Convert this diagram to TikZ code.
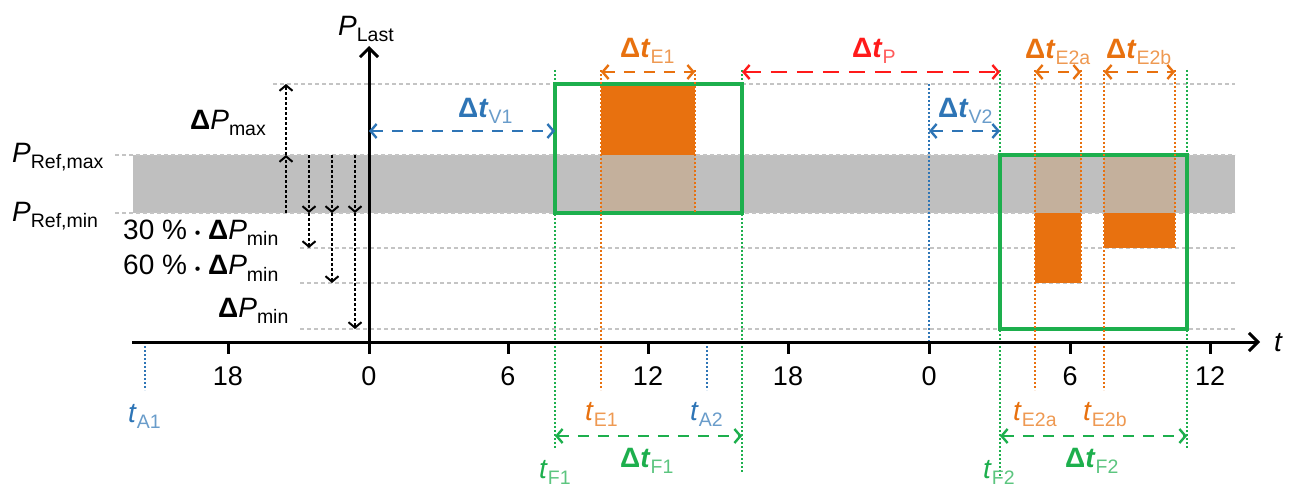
\documentclass[tikz,border=0pt]{standalone}
\usepackage{fontspec}
\setmainfont{Liberation Sans}
\usetikzlibrary{arrows.meta}
\definecolor{cOr}{HTML}{E8710F}
\definecolor{cGr}{HTML}{1DAF4D}
\definecolor{cBl}{HTML}{2E75B6}
\definecolor{cRd}{HTML}{FF1A1A}
\definecolor{cTan}{HTML}{C4B09C}
\definecolor{cBand}{HTML}{BFBFBF}
\definecolor{cGrid}{HTML}{C4C4C4}
\newcommand{\sbs}[1]{\raisebox{-6pt}{\fontsize{19.5}{22}\selectfont #1}}
\newcommand{\csb}[2]{\raisebox{-6pt}{\fontsize{19.5}{22}\selectfont\color{#1!72!white}#2}}
\newcommand{\Dt}{\textbf{Δ\textit{t}}}
\newcommand{\mdot}{\raisebox{1pt}{\fontsize{16}{16}\selectfont•}}
\begin{document}
\begin{tikzpicture}[x=1pt,y=-1pt,
  gridl/.style={cGrid, line width=1.5pt, dash pattern=on 4pt off 3pt},
  vdot/.style={line width=2.3pt, dash pattern=on 2pt off 2pt},
  barb/.tip={Straight Barb[length=6pt,width=14pt,line width=2.4pt]},
  dimarr/.style={line width=2.5pt, dash pattern=on 11pt off 9pt, barb-barb},
  blkarr/.style={line width=2pt, dash pattern=on 3pt off 2pt, -{Straight Barb[length=5.5pt,width=13pt,line width=2pt]}},
  axis/.style={line width=3pt, -{Straight Barb[length=9pt,width=18pt,line width=3pt]}},
  tickl/.style={line width=3pt},
  lbl/.style={inner sep=0pt, anchor=base west, font=\fontsize{28}{32}\selectfont},
  numl/.style={inner sep=0pt, anchor=base, font=\fontsize{27}{30}\selectfont},
  gbox/.style={cGr, line width=4pt}]
\useasboundingbox (0,0) rectangle (1295,486);

% grid lines
\draw[gridl] (273,84) -- (1235,84);
\draw[gridl] (300,248) -- (1235,248);
\draw[gridl] (300,283) -- (1235,283);
\draw[gridl] (300,329) -- (1235,329);
% reference band
\fill[cBand] (133,155) rectangle (1235,213);
\draw[gridl] (115,155) -- (1235,155);
\draw[gridl] (115,213) -- (1235,213);

% orange events
\fill[cOr] (601,84) rectangle (695,155);
\fill[cTan] (601,155) rectangle (695,213);
\fill[cTan] (1035,155) rectangle (1081,213);
\fill[cOr] (1035,213) rectangle (1081,283);
\fill[cTan] (1104,155) rectangle (1175,213);
\fill[cOr] (1104,213) rectangle (1175,248);

% green windows
\node[inner sep=0pt, minimum width=187pt, minimum height=129pt] (W1) at (648.5,148.5) {};
\node[inner sep=0pt, minimum width=187pt, minimum height=174pt] (W2) at (1093.5,242) {};
\draw[gbox] (W1.north west) rectangle (W1.south east);
\draw[gbox] (W2.north west) rectangle (W2.south east);

% coordinates
\coordinate (F1t) at (555,70);  \coordinate (F1b) at (555,448);
\coordinate (F1rt) at (742,70); \coordinate (F1rb) at (742,472);
\coordinate (F2t) at (1000,70); \coordinate (F2b) at (1000,478);
\coordinate (F2rt) at (1187,70); \coordinate (F2rb) at (1187,448);
\coordinate (E1t) at (601,70);  \coordinate (E1b) at (601,390);
\coordinate (E1rt) at (695,70); \coordinate (E1rb) at (695,213);
\coordinate (E2at) at (1035,70); \coordinate (E2ab) at (1035,390);
\coordinate (E2art) at (1081,70); \coordinate (E2arb) at (1081,283);
\coordinate (E2bt) at (1104,70); \coordinate (E2bb) at (1104,390);
\coordinate (E2brt) at (1175,70); \coordinate (E2brb) at (1175,248);
\coordinate (A1t) at (145,342); \coordinate (A1b) at (145,390);
\coordinate (A2t) at (707,342); \coordinate (A2b) at (707,390);
\coordinate (V2t) at (929,84);  \coordinate (V2b) at (929,342);

% dotted verticals
\draw[vdot,cGr] (F1t) -- (F1b);
\draw[vdot,cGr] (F1rt) -- (F1rb);
\draw[vdot,cGr] (F2t) -- (F2b);
\draw[vdot,cGr] (F2rt) -- (F2rb);
\draw[vdot,cOr] (E1t) -- (E1b);
\draw[vdot,cOr] (E1rt) -- (E1rb);
\draw[vdot,cOr] (E2at) -- (E2ab);
\draw[vdot,cOr] (E2art) -- (E2arb);
\draw[vdot,cOr] (E2bt) -- (E2bb);
\draw[vdot,cOr] (E2brt) -- (E2brb);
\draw[vdot,cBl] (A1t) -- (A1b);
\draw[vdot,cBl] (A2t) -- (A2b);
\draw[vdot,cBl] (V2t) -- (V2b);

% axes
\coordinate (O) at (369,342);
\coordinate (xs) at (132,342);
\coordinate (xe) at (1260,342);
\coordinate (ys) at (369,354);
\coordinate (ye) at (369,46);
\draw[axis] (xs) -- (xe);
\draw[axis] (ys) -- (ye);
\foreach \x/\n in {228/18,508/6,648/12,788/18,929/0,1070/6,1210/12}{
  \draw[tickl] (\x,342) -- (\x,354);
  \node[numl] (tk\x) at (\x,385) {\n};
}
\node[numl] (tk369) at (369,385) {0};
\node[lbl] (tlab) at (1274,351) {\textit{t}};
\node[lbl] (plast) at (338,36) {\textit{P}\sbs{Last}};

% left dotted black arrows
\coordinate (m1a) at (286,213); \coordinate (m1b) at (286,155); \coordinate (m1c) at (286,84);
\draw[blkarr] (m1a) -- (m1b);
\draw[blkarr] (m1b) -- (m1c);
\foreach \x/\e in {309/248,332/283,355/329}{
  \coordinate (d\x a) at (\x,155);
  \coordinate (d\x b) at (\x,213);
  \coordinate (d\x c) at (\x,\e);
  \draw[blkarr] (d\x a) -- (d\x b);
  \draw[blkarr] (d\x b) -- (d\x c);
}

% dimension arrows
\coordinate (V1s) at (369,131); \coordinate (V1e) at (555,131);
\draw[dimarr,cBl] (V1s) -- (V1e);
\coordinate (V2s) at (929,131); \coordinate (V2e) at (1000,131);
\draw[dimarr,cBl] (V2s) -- (V2e);
\coordinate (DE1s) at (601,72); \coordinate (DE1e) at (695,72);
\draw[dimarr,cOr] (DE1s) -- (DE1e);
\coordinate (DPs) at (742,72); \coordinate (DPe) at (1000,72);
\draw[dimarr,cRd,dash pattern=on 16pt off 10pt] (DPs) -- (DPe);
\coordinate (DE2as) at (1035,72); \coordinate (DE2ae) at (1081,72);
\draw[dimarr,cOr] (DE2as) -- (DE2ae);
\coordinate (DE2bs) at (1104,72); \coordinate (DE2be) at (1175,72);
\draw[dimarr,cOr] (DE2bs) -- (DE2be);
\coordinate (DF1s) at (555,436); \coordinate (DF1e) at (742,436);
\draw[dimarr,cGr] (DF1s) -- (DF1e);
\coordinate (DF2s) at (1000,436); \coordinate (DF2e) at (1187,436);
\draw[dimarr,cGr] (DF2s) -- (DF2e);

% labels
\node[lbl,cBl] (lV1) at (458,118) {\Dt\csb{cBl}{V1}};
\node[lbl,cBl] (lV2) at (938,118) {\Dt\csb{cBl}{V2}};
\node[lbl,cOr] (lE1) at (620,58) {\Dt\csb{cOr}{E1}};
\node[lbl,cRd] (lP) at (852,58) {\Dt\csb{cRd}{P}};
\node[lbl,cOr] (lE2a) at (1025,59) {\Dt\csb{cOr}{E2a}};
\node[lbl,cOr] (lE2b) at (1106,59) {\Dt\csb{cOr}{E2b}};
\node[lbl] (lPmax) at (190,130) {\textbf{Δ}\textit{P}\sbs{max}};
\node[lbl] (l30) at (123,240) {30 \% \mdot{} \textbf{Δ}\textit{P}\sbs{min}};
\node[lbl] (l60) at (123,275) {60 \% \mdot{} \textbf{Δ}\textit{P}\sbs{min}};
\node[lbl] (lPmin) at (218,317) {\textbf{Δ}\textit{P}\sbs{min}};
\node[lbl] (lRmax) at (12,163) {\textit{P}\sbs{Ref,max}};
\node[lbl] (lRmin) at (12,222) {\textit{P}\sbs{Ref,min}};
\node[lbl,cBl] (lA1) at (128,422) {\textit{t}\csb{cBl}{A1}};
\node[lbl,cOr] (lE1b) at (585,420) {\textit{t}\csb{cOr}{E1}};
\node[lbl,cBl] (lA2) at (690,420) {\textit{t}\csb{cBl}{A2}};
\node[lbl,cGr] (lF1) at (539,478) {\textit{t}\csb{cGr}{F1}};
\node[lbl,cGr] (lDF1) at (620,467) {\Dt\csb{cGr}{F1}};
\node[lbl,cOr] (lE2ab) at (1013,420) {\textit{t}\csb{cOr}{E2a}};
\node[lbl,cOr] (lE2bb) at (1083,420) {\textit{t}\csb{cOr}{E2b}};
\node[lbl,cGr] (lF2) at (983,478) {\textit{t}\csb{cGr}{F2}};
\node[lbl,cGr] (lDF2) at (1065,467) {\Dt\csb{cGr}{F2}};
\end{tikzpicture}
\end{document}
